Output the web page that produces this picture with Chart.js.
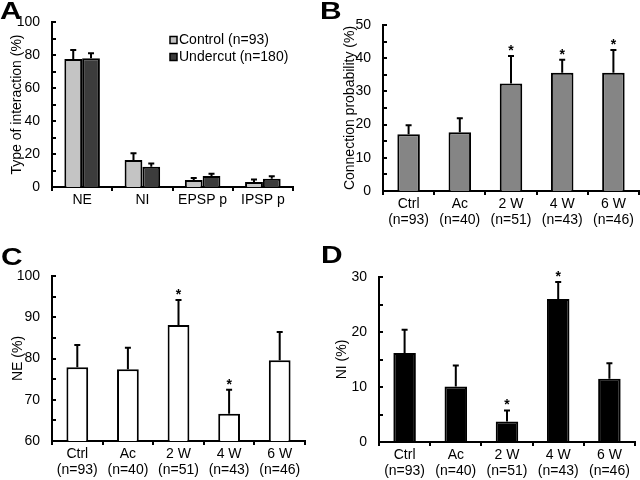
<!DOCTYPE html>
<html>
<head>
<meta charset="utf-8">
<script src="https://cdn.jsdelivr.net/npm/chart.js@4.4.1/dist/chart.umd.min.js"></script>
<style>
  html, body { margin:0; padding:0; background:#fff; }
  body { width:640px; height:480px; overflow:hidden; position:relative; font-family:'Liberation Sans', Arial, sans-serif; }
  canvas { position:absolute; }
  .letter { position:absolute; font:bold 23px/23px 'Liberation Sans', Arial, sans-serif; color:#000; transform:scaleX(1.3); transform-origin:left top; }
</style>
</head>
<body>
<canvas id="cA" width="320" height="240" style="left:0;top:0"></canvas>
<canvas id="cB" width="320" height="240" style="left:320px;top:0"></canvas>
<canvas id="cC" width="320" height="240" style="left:0;top:240px"></canvas>
<canvas id="cD" width="320" height="240" style="left:320px;top:240px"></canvas>
<div class="letter" style="left:0;top:0">A</div>
<div class="letter" style="left:320px;top:0">B</div>
<div class="letter" style="left:1px;top:246px">C</div>
<div class="letter" style="left:321px;top:244px">D</div>
<script>
// ---------- data ----------
const catA = ['NE', 'NI', 'EPSP p', 'IPSP p'];
const controlA = [77.6, 16.4, 4.2, 3.0];
const controlSemA = [5.4, 4.0, 1.3, 1.6];
const undercutA = [78.0, 12.3, 6.7, 5.0];
const undercutSemA = [3.0, 2.0, 1.3, 1.5];
const legendA = ['Control (n=93)', 'Undercut (n=180)'];

const groups = [['Ctrl', '(n=93)'], ['Ac', '(n=40)'], ['2 W', '(n=51)'], ['4 W', '(n=43)'], ['6 W', '(n=46)']];

const connB = [17.1, 17.7, 32.4, 35.6, 35.6];
const connSemB = [2.7, 4.2, 8.3, 3.9, 6.9];
const sigB = [false, false, true, true, true];

const neC = [77.9, 77.4, 88.1, 66.6, 79.6];
const neSemC = [5.4, 5.2, 6.1, 5.8, 6.8];
const sigC = [false, false, true, true, false];

const niD = [16.2, 10.1, 3.75, 26.0, 11.5];
const niSemD = [4.2, 3.8, 2.0, 3.1, 2.8];
const sigD = [false, false, true, true, false];

// ---------- setup ----------
const FONT = "'Liberation Sans', Arial, sans-serif";
Chart.defaults.font.family = FONT;
Chart.defaults.font.size = 14;
Chart.defaults.color = '#000';

const errPlugin = {
  id: 'errbars',
  afterDatasetsDraw(chart, args, opts) {
    const ctx = chart.ctx, y = chart.scales.y;
    chart.data.datasets.forEach((ds, di) => {
      const meta = chart.getDatasetMeta(di);
      const sem = opts.sems[di];
      meta.data.forEach((bar, i) => {
        const top = y.getPixelForValue(ds.data[i] + sem[i]);
        ctx.save();
        ctx.strokeStyle = '#000';
        ctx.lineWidth = 2;
        ctx.beginPath();
        ctx.moveTo(bar.x, bar.y);
        ctx.lineTo(bar.x, top);
        ctx.moveTo(bar.x - 3, top);
        ctx.lineTo(bar.x + 3, top);
        ctx.stroke();
        if (opts.sig && opts.sig[i]) {
          ctx.fillStyle = '#000';
          ctx.font = 'bold 14px ' + FONT;
          ctx.textAlign = 'center';
          ctx.textBaseline = 'alphabetic';
          ctx.fillText('*', bar.x, top - 1);
        }
        ctx.restore();
      });
    });
  }
};

const minorPlugin = {
  id: 'minorticks',
  afterDraw(chart, args, opts) {
    const ctx = chart.ctx, y = chart.scales.y, left = chart.chartArea.left;
    ctx.save();
    ctx.strokeStyle = '#000';
    ctx.lineWidth = 2;
    ctx.beginPath();
    for (let v = y.min; v <= y.max + 1e-9; v += opts.step) {
      const py = Math.round(y.getPixelForValue(v));
      ctx.moveTo(left, py);
      ctx.lineTo(left + 4, py);
    }
    ctx.stroke();
    ctx.restore();
  }
};

const legendPlugin = {
  id: 'boxlegend',
  afterDraw(chart, args, opts) {
    if (!opts.show) return;
    const ctx = chart.ctx;
    ctx.save();
    ctx.font = '14px ' + FONT;
    ctx.textBaseline = 'middle';
    ctx.textAlign = 'left';
    chart.data.datasets.forEach((ds, i) => {
      const yy = opts.y + i * opts.dy;
      ctx.fillStyle = ds.backgroundColor;
      ctx.fillRect(opts.x, yy - 3.5, 7, 7);
      ctx.strokeStyle = '#000';
      ctx.lineWidth = 1.5;
      ctx.strokeRect(opts.x, yy - 3.5, 7, 7);
      ctx.fillStyle = '#000';
      ctx.fillText(ds.label, opts.x + 9, yy);
    });
    ctx.restore();
  }
};

function makeChart(id, area, labels, datasets, yopts, plugOpts, barFrac, legend) {
  const ds = datasets.map(d => Object.assign({
    borderColor: '#000', borderWidth: 2,
    categoryPercentage: barFrac, barPercentage: 1.0
  }, d));
  return new Chart(document.getElementById(id), {
    type: 'bar',
    data: { labels: labels, datasets: ds },
    options: {
      responsive: false,
      animation: false,
      layout: { padding: { left: 0, top: area.top, right: 320 - area.right, bottom: 0 } },
      plugins: {
        legend: { display: false },
        tooltip: { enabled: false },
        errbars: plugOpts,
        minorticks: { step: yopts.minor },
        boxlegend: legend || { show: false }
      },
      scales: {
        x: {
          offset: true,
          grid: { display: true, drawOnChartArea: false, drawTicks: true, tickLength: 4, lineWidth: 2, color: '#000', offset: true },
          border: { display: true, color: '#000', width: 2 },
          ticks: { padding: 1, maxRotation: 0, autoSkip: false, font: { size: 14, lineHeight: 1.15 }, color: '#000' },
          afterFit: s => { s.height = 240 - area.bottom; }
        },
        y: {
          min: yopts.min, max: yopts.max,
          grid: { display: false },
          border: { display: true, color: '#000', width: 2 },
          ticks: { stepSize: yopts.step, padding: 4, font: { size: 14 }, color: '#000' },
          title: { display: true, text: yopts.title, font: { size: 14 }, color: '#000', padding: { top: yopts.titlePad, bottom: 0 } },
          afterFit: s => { s.width = area.left; }
        }
      }
    },
    plugins: [errPlugin, minorPlugin, legendPlugin]
  });
}

makeChart('cA', { left: 52, top: 22, right: 293, bottom: 187 }, catA,
  [
    { label: legendA[0], data: controlA, backgroundColor: '#c4c4c4' },
    { label: legendA[1], data: undercutA, backgroundColor: '#3c3c3c' }
  ],
  { min: 0, max: 100, step: 20, minor: 10, title: 'Type of interaction (%)', titlePad: 9 },
  { sems: [controlSemA, undercutSemA] }, 0.59,
  { show: true, x: 170, y: 40, dy: 17 });

makeChart('cB', { left: 63, top: 25, right: 319, bottom: 191 }, groups,
  [{ label: 'B', data: connB, backgroundColor: '#858585' }],
  { min: 0, max: 50, step: 10, minor: 5, title: 'Connection probability (%)', titlePad: 22 },
  { sems: [connSemB], sig: sigB }, 0.44);

makeChart('cC', { left: 52, top: 36, right: 305, bottom: 201 }, groups,
  [{ label: 'C', data: neC, backgroundColor: '#ffffff' }],
  { min: 60, max: 100, step: 10, minor: 5, title: 'NE (%)', titlePad: 10 },
  { sems: [neSemC], sig: sigC }, 0.43);

makeChart('cD', { left: 59, top: 37, right: 315, bottom: 202 }, groups,
  [{ label: 'D', data: niD, backgroundColor: '#000000' }],
  { min: 0, max: 30, step: 10, minor: 5, title: 'NI (%)', titlePad: 14 },
  { sems: [niSemD], sig: sigD }, 0.44);
</script>
</body>
</html>
